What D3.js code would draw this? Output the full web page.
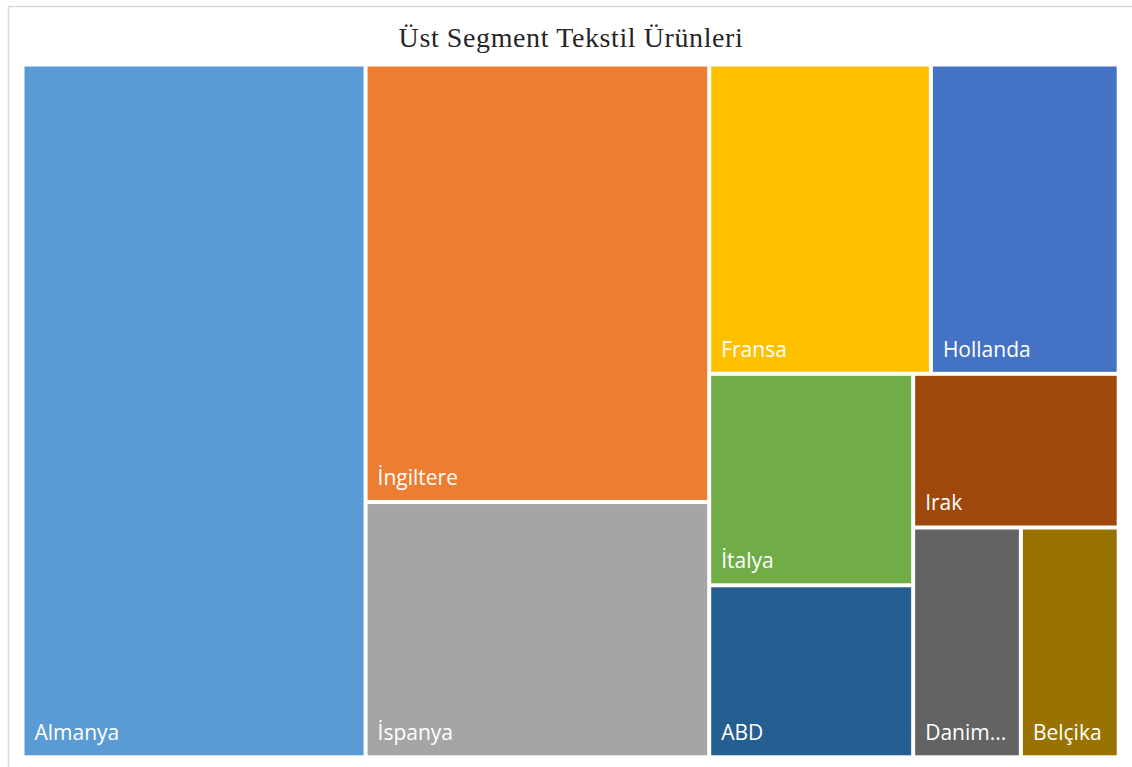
<!DOCTYPE html>
<html>
<head>
<meta charset="utf-8">
<script src="https://cdn.jsdelivr.net/npm/d3@7"></script>
<style>
  body { margin: 0; background: #fff; }
  svg { display: block; }
</style>
</head>
<body>
<div id="chart"></div>
<script>
const chartTitle = 'Üst Segment Tekstil Ürünleri';
const countries = ['Almanya', 'İngiltere', 'İspanya', 'Fransa', 'Hollanda', 'İtalya', 'ABD', 'Irak', 'Danimarka', 'Belçika'];
// share of total
const shares = [31.3, 19.8, 11.55, 9.03, 7.65, 5.68, 4.62, 4.16, 3.26, 2.96];
const palette = ['#5b9bd5', '#ed7d31', '#a5a5a5', '#ffc000', '#4472c4', '#70ad47', '#255e91', '#9e480e', '#636363', '#997300'];

const width = 1132;
const height = 767;
const area = { left: 24.5, top: 66.5, right: 1116.7, bottom: 755.3 };

// squarify (ratio 1) like Excel: never leave a single node alone at the end
function excelTile(parent, x0, y0, x1, y1) {
  const nodes = parent.children;
  const n = nodes.length;
  let value = parent.value;
  let i0 = 0;
  while (i0 < n) {
    const dx = x1 - x0, dy = y1 - y0;
    const alpha = Math.max(dy / dx, dx / dy) / value;
    let i1 = i0 + 1;
    let sum = nodes[i0].value, minV = sum, maxV = sum;
    let beta = sum * sum * alpha;
    let minRatio = Math.max(maxV / beta, beta / minV);
    for (; i1 < n; ++i1) {
      const v = nodes[i1].value;
      const s = sum + v;
      const mn = Math.min(minV, v), mx = Math.max(maxV, v);
      beta = s * s * alpha;
      const r = Math.max(mx / beta, beta / mn);
      if (r > minRatio && i1 !== n - 1) break;
      sum = s; minV = mn; maxV = mx; minRatio = r;
    }
    const row = { value: sum, children: nodes.slice(i0, i1) };
    if (dx < dy) d3.treemapDice(row, x0, y0, x1, y0 += dy * sum / value);
    else d3.treemapSlice(row, x0, y0, x0 += dx * sum / value, y1);
    value -= sum;
    i0 = i1;
  }
}

const svg = d3.select('#chart').append('svg')
  .attr('width', width)
  .attr('height', height);

svg.append('rect')
  .attr('width', width).attr('height', height)
  .attr('fill', '#fff');

// chart area border
svg.append('rect')
  .attr('x', 8.5).attr('y', 6.5)
  .attr('width', width).attr('height', height)
  .attr('fill', 'none')
  .attr('stroke', '#d9d9d9')
  .attr('stroke-width', 1.5);

svg.append('text')
  .attr('x', 571)
  .attr('y', 47)
  .attr('text-anchor', 'middle')
  .attr('font-family', '"Liberation Serif", "Times New Roman", serif')
  .attr('font-size', 28)
  .attr('letter-spacing', 0.6)
  .attr('fill', '#262626')
  .text(chartTitle);

const color = d3.scaleOrdinal().domain(countries).range(palette);

const root = d3.hierarchy({ children: countries.map((name, i) => ({ name, value: shares[i] })) })
  .sum(d => d.value || 0)
  .sort((a, b) => b.value - a.value);

d3.treemap()
  .tile(excelTile)
  .size([area.right - area.left, area.bottom - area.top])
  .paddingInner(4)(root);

const g = svg.append('g').attr('transform', `translate(${area.left},${area.top})`);

const cell = g.selectAll('g.cell')
  .data(root.leaves())
  .join('g')
  .attr('class', 'cell')
  .attr('transform', d => `translate(${d.x0},${d.y0})`);

cell.append('rect')
  .attr('width', d => d.x1 - d.x0)
  .attr('height', d => d.y1 - d.y0)
  .attr('fill', d => color(d.data.name));

const label = cell.append('text')
  .attr('x', 10)
  .attr('y', d => d.y1 - d.y0 - 15)
  .attr('font-family', '"Open Sans", "Noto Sans", sans-serif')
  .attr('font-size', 21)
  .attr('fill', '#fff')
  .text(d => d.data.name);

// shorten labels that don't fit in their tile
label.each(function (d) {
  const el = d3.select(this);
  const maxW = d.x1 - d.x0 - 18;
  let txt = d.data.name;
  if (this.getComputedTextLength() <= maxW) return;
  while (txt.length > 1) {
    txt = txt.slice(0, -1);
    el.text(txt + '...');
    if (this.getComputedTextLength() <= maxW) break;
  }
});
</script>
</body>
</html>
